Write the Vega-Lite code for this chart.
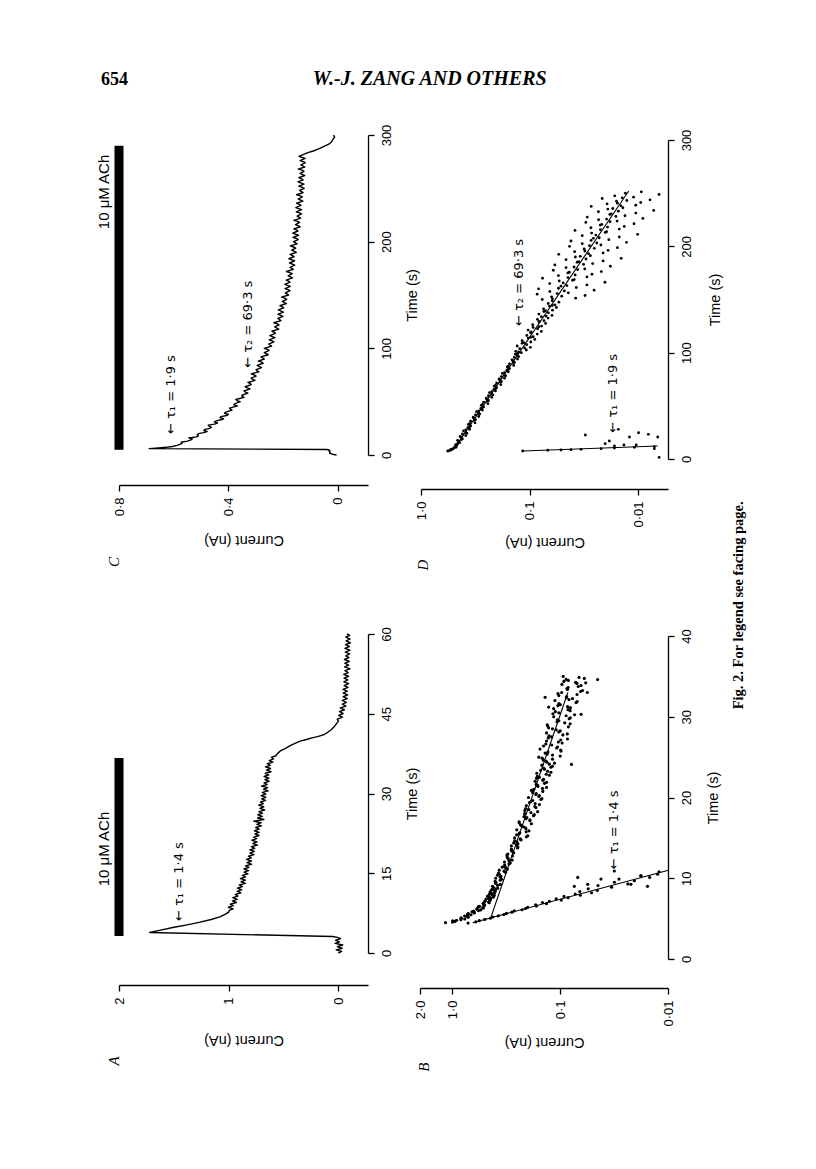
{
"$schema": "https://vega.github.io/schema/vega-lite/v6.json",
"background": "white",
"padding": {"left": 96, "top": 68, "right": 20, "bottom": 20},
"config": {
  "view": {"stroke": null},
  "font": "Liberation Sans",
  "axis": {"grid": false, "domainColor": "black", "tickColor": "black", "labelColor": "black", "titleColor": "black", "domainWidth": 1.3, "tickWidth": 1.3, "tickSize": 6, "labelFontSize": 13, "titleFontSize": 14.5, "titleFontWeight": "normal", "labelFont": "Liberation Sans", "titleFont": "Liberation Sans", "labelPadding": 6, "labelFlush": false, "labelOverlap": false, "domainCap": "butt"}
},
"datasets": {
"A": [{"t":0,"c":0},{"t":0.3,"c":-0.03},{"t":0.6,"c":0.02},{"t":0.9,"c":-0.035},{"t":1.2,"c":0.01},{"t":1.5,"c":-0.04},{"t":1.8,"c":0.03},{"t":2.1,"c":-0.01},{"t":2.4,"c":0.025},{"t":2.7,"c":-0.02},{"t":2.95,"c":0.01},{"t":3.1,"c":0.05},{"t":3.85,"c":1.72},{"t":4.3,"c":1.62},{"t":4.8,"c":1.51},{"t":5.3,"c":1.38},{"t":5.8,"c":1.26},{"t":6.3,"c":1.16},{"t":6.8,"c":1.08},{"t":7.3,"c":1.03},{"t":7.7,"c":1.0},
{"t":8.0,"c":0.995},{"t":8.3,"c":0.96},{"t":8.6,"c":1.003},{"t":8.9,"c":0.957},{"t":9.2,"c":0.986},{"t":9.5,"c":0.93},{"t":9.8,"c":0.966},{"t":10.1,"c":0.922},{"t":10.4,"c":0.963},{"t":10.7,"c":0.916},{"t":11.0,"c":0.94},{"t":11.3,"c":0.889},{"t":11.6,"c":0.923},{"t":11.9,"c":0.882},{"t":12.2,"c":0.921},{"t":12.5,"c":0.875},{"t":12.8,"c":0.904},{"t":13.1,"c":0.848},{"t":13.4,"c":0.887},{"t":13.7,"c":0.847},{"t":14.0,"c":0.893},{"t":14.3,"c":0.848},{"t":14.6,"c":0.874},{"t":14.9,"c":0.824},{"t":15.2,"c":0.86},{"t":15.5,"c":0.82},{"t":15.8,"c":0.861},{"t":16.1,"c":0.816},{"t":16.4,"c":0.847},{"t":16.7,"c":0.792},{"t":17.0,"c":0.833},{"t":17.3,"c":0.793},{"t":17.6,"c":0.839},{"t":17.9,"c":0.794},{"t":18.2,"c":0.82},{"t":18.5,"c":0.77},{"t":18.8,"c":0.806},{"t":19.1,"c":0.766},{"t":19.4,"c":0.807},{"t":19.7,"c":0.762},{"t":20.0,"c":0.793},{"t":20.3,"c":0.738},{"t":20.6,"c":0.779},{"t":20.9,"c":0.741},{"t":21.2,"c":0.788},{"t":21.5,"c":0.745},{"t":21.8,"c":0.772},{"t":22.1,"c":0.724},{"t":22.4,"c":0.761},{"t":22.7,"c":0.723},{"t":23.0,"c":0.765},{"t":23.3,"c":0.722},{"t":23.6,"c":0.754},{"t":23.9,"c":0.701},{"t":24.2,"c":0.743},{"t":24.5,"c":0.705},{"t":24.8,"c":0.772},{"t":25.1,"c":0.679},{"t":25.4,"c":0.736},{"t":25.7,"c":0.693},{"t":26.0,"c":0.735},{"t":26.3,"c":0.692},{"t":26.6,"c":0.724},{"t":26.9,"c":0.672},{"t":27.2,"c":0.716},{"t":27.5,"c":0.68},{"t":27.8,"c":0.727},{"t":28.1,"c":0.684},{"t":28.4,"c":0.711},{"t":28.7,"c":0.663},{"t":29.0,"c":0.70},{"t":29.3,"c":0.662},{"t":29.6,"c":0.704},{"t":29.9,"c":0.661},{"t":30.2,"c":0.693},{"t":30.5,"c":0.64},{"t":30.8,"c":0.682},{"t":31.1,"c":0.644},{"t":31.4,"c":0.701},{"t":31.7,"c":0.649},{"t":32.0,"c":0.678},{"t":32.3,"c":0.631},{"t":32.6,"c":0.67},{"t":32.9,"c":0.633},{"t":33.2,"c":0.677},{"t":33.5,"c":0.635},{"t":33.8,"c":0.667},{"t":34.1,"c":0.614},{"t":34.4,"c":0.656},{"t":34.7,"c":0.618},{"t":35.0,"c":0.665},{"t":35.3,"c":0.622},{"t":35.6,"c":0.648},{"t":35.9,"c":0.597},{"t":36.2,"c":0.631},{"t":36.5,"c":0.59},{"t":36.8,"c":0.61},{"t":37.1,"c":0.57},
{"t":37.5,"c":0.555},{"t":38.0,"c":0.53},{"t":38.4,"c":0.49},{"t":38.8,"c":0.455},{"t":39.1,"c":0.43},{"t":39.4,"c":0.40},{"t":39.7,"c":0.365},{"t":39.9,"c":0.34},{"t":40.1,"c":0.30},{"t":40.3,"c":0.27},{"t":40.5,"c":0.23},{"t":40.7,"c":0.19},{"t":40.9,"c":0.16},{"t":41.1,"c":0.13},{"t":41.4,"c":0.105},{"t":41.7,"c":0.085},{"t":42.0,"c":0.065},{"t":42.4,"c":0.045},{"t":42.8,"c":0.03},{"t":43.2,"c":0.015},{"t":43.6,"c":0.0},
{"t":44.0,"c":0.01},{"t":44.35,"c":-0.037},{"t":44.7,"c":-0.003},{"t":45.05,"c":-0.043},{"t":45.4,"c":-0.01},{"t":45.75,"c":-0.055},{"t":46.1,"c":-0.017},{"t":46.45,"c":-0.069},{"t":46.8,"c":-0.036},{"t":47.15,"c":-0.073},{"t":47.5,"c":-0.035},{"t":47.85,"c":-0.082},{"t":48.2,"c":-0.044},{"t":48.55,"c":-0.085},{"t":48.9,"c":-0.044},{"t":49.25,"c":-0.081},{"t":49.6,"c":-0.042},{"t":49.95,"c":-0.088},{"t":50.3,"c":-0.053},{"t":50.65,"c":-0.094},{"t":51.0,"c":-0.05},{"t":51.35,"c":-0.086},{"t":51.7,"c":-0.052},{"t":52.05,"c":-0.093},{"t":52.4,"c":-0.049},{"t":52.75,"c":-0.09},{"t":53.1,"c":-0.06},{"t":53.45,"c":-0.106},{"t":53.8,"c":-0.057},{"t":54.15,"c":-0.093},{"t":54.5,"c":-0.059},{"t":54.85,"c":-0.1},{"t":55.2,"c":-0.055},{"t":55.55,"c":-0.096},{"t":55.9,"c":-0.067},{"t":56.25,"c":-0.103},{"t":56.6,"c":-0.063},{"t":56.95,"c":-0.105},{"t":57.3,"c":-0.06},{"t":57.65,"c":-0.1},{"t":58.0,"c":-0.065},{"t":58.35,"c":-0.11},{"t":58.7,"c":-0.07},{"t":59.05,"c":-0.106},{"t":59.4,"c":-0.067},{"t":59.75,"c":-0.103},{"t":60.0,"c":-0.078}],
"C": [{"t":0,"c":0.005},{"t":0.5,"c":0.015},{"t":1.5,"c":0.03},{"t":2.5,"c":0.028},{"t":3.5,"c":0.032},{"t":4.5,"c":0.03},{"t":5.2,"c":0.04},{"t":6.0,"c":0.69},{"t":6.6,"c":0.655},{"t":7.2,"c":0.628},{"t":8,"c":0.605},{"t":9,"c":0.588},{"t":10,"c":0.577},{"t":11,"c":0.57},
{"t":12,"c":0.573},{"t":13,"c":0.55},{"t":14,"c":0.539},{"t":15,"c":0.532},{"t":16,"c":0.545},{"t":17,"c":0.517},{"t":18,"c":0.51},{"t":19,"c":0.514},{"t":20,"c":0.51},{"t":21,"c":0.49},{"t":22,"c":0.478},{"t":23,"c":0.49},{"t":24,"c":0.486},{"t":25,"c":0.468},{"t":26,"c":0.462},{"t":27,"c":0.47},{"t":28,"c":0.474},{"t":29,"c":0.451},{"t":30,"c":0.44},{"t":31,"c":0.452},{"t":32,"c":0.444},{"t":33,"c":0.428},{"t":34,"c":0.418},{"t":35,"c":0.431},{"t":36,"c":0.428},{"t":37,"c":0.406},{"t":38,"c":0.40},{"t":39,"c":0.414},{"t":40,"c":0.412},{"t":42,"c":0.387},{"t":43,"c":0.393},{"t":44,"c":0.396},{"t":46,"c":0.367},{"t":47,"c":0.38},{"t":48,"c":0.378},{"t":50,"c":0.357},{"t":51,"c":0.369},{"t":52,"c":0.373},{"t":54,"c":0.343},{"t":55,"c":0.35},{"t":56,"c":0.351},{"t":58,"c":0.329},{"t":59,"c":0.338},{"t":60,"c":0.343},{"t":62,"c":0.321},{"t":63,"c":0.33},{"t":64,"c":0.339},{"t":66,"c":0.317},{"t":67,"c":0.32},{"t":68,"c":0.329},{"t":70,"c":0.303},{"t":71,"c":0.312},{"t":72,"c":0.317},{"t":74,"c":0.299},{"t":75,"c":0.305},{"t":76,"c":0.317},{"t":78,"c":0.289},{"t":79,"c":0.296},{"t":80,"c":0.299},{"t":82,"c":0.279},{"t":83,"c":0.288},{"t":84,"c":0.295},{"t":86,"c":0.273},{"t":87,"c":0.279},{"t":88,"c":0.291},{"t":90,"c":0.269},{"t":91,"c":0.274},{"t":92,"c":0.281},{"t":94,"c":0.255},{"t":95,"c":0.262},{"t":96,"c":0.269},{"t":98,"c":0.251},{"t":99,"c":0.258},{"t":100,"c":0.269},{"t":102,"c":0.242},{"t":104,"c":0.253},{"t":106,"c":0.234},{"t":107,"c":0.241},{"t":108,"c":0.251},{"t":110,"c":0.23},{"t":112,"c":0.249},{"t":114,"c":0.228},{"t":115,"c":0.232},{"t":116,"c":0.241},{"t":118,"c":0.216},{"t":120,"c":0.231},{"t":122,"c":0.215},{"t":123,"c":0.222},{"t":124,"c":0.234},{"t":126,"c":0.208},{"t":128,"c":0.219},{"t":130,"c":0.201},{"t":131,"c":0.209},{"t":132,"c":0.219},{"t":134,"c":0.199},{"t":136,"c":0.218},{"t":138,"c":0.198},{"t":139,"c":0.203},{"t":140,"c":0.212},{"t":142,"c":0.188},{"t":144,"c":0.203},{"t":146,"c":0.187},{"t":147,"c":0.195},{"t":148,"c":0.206},{"t":150,"c":0.18},{"t":152,"c":0.192},{"t":154,"c":0.175},{"t":155,"c":0.183},{"t":156,"c":0.193},{"t":158,"c":0.174},{"t":160,"c":0.194},{"t":162,"c":0.175},{"t":163,"c":0.18},{"t":164,"c":0.189},{"t":166,"c":0.166},{"t":168,"c":0.182},{"t":170,"c":0.167},{"t":171,"c":0.176},{"t":172,"c":0.188},{"t":174,"c":0.163},{"t":176,"c":0.175},{"t":178,"c":0.158},{"t":179,"c":0.166},{"t":180,"c":0.177},{"t":182,"c":0.158},{"t":184,"c":0.179},{"t":186,"c":0.16},{"t":187,"c":0.166},{"t":188,"c":0.175},{"t":190,"c":0.152},{"t":192,"c":0.169},{"t":194,"c":0.154},{"t":195,"c":0.162},{"t":196,"c":0.174},{"t":198,"c":0.149},{"t":200,"c":0.162},{"t":202,"c":0.145},{"t":203,"c":0.152},{"t":204,"c":0.164},{"t":206,"c":0.144},{"t":208,"c":0.165},{"t":210,"c":0.146},{"t":211,"c":0.152},{"t":212,"c":0.161},{"t":214,"c":0.138},{"t":216,"c":0.155},{"t":218,"c":0.14},{"t":219,"c":0.147},{"t":220,"c":0.161},{"t":222,"c":0.136},{"t":224,"c":0.149},{"t":226,"c":0.133},{"t":227,"c":0.141},{"t":228,"c":0.152},{"t":230,"c":0.133},{"t":232,"c":0.154},{"t":234,"c":0.135},{"t":235,"c":0.14},{"t":236,"c":0.151},{"t":238,"c":0.128},{"t":240,"c":0.145},{"t":242,"c":0.13},{"t":243,"c":0.137},{"t":244,"c":0.151},{"t":246,"c":0.127},{"t":248,"c":0.14},{"t":250,"c":0.123},{"t":251,"c":0.131},{"t":252,"c":0.143},{"t":254,"c":0.124},{"t":256,"c":0.146},{"t":258,"c":0.127},{"t":259,"c":0.133},{"t":260,"c":0.143},{"t":262,"c":0.121},{"t":264,"c":0.138},{"t":266,"c":0.124},{"t":267,"c":0.131},{"t":268,"c":0.145},{"t":270,"c":0.121},{"t":272,"c":0.135},{"t":274,"c":0.119},{"t":275,"c":0.127},{"t":276,"c":0.138},{"t":278,"c":0.12},{"t":280,"c":0.142},{"t":282,"c":0.123},{"t":283.5,"c":0.11},{"t":285,"c":0.09},{"t":286.5,"c":0.075},{"t":288,"c":0.062},{"t":290,"c":0.045},{"t":292,"c":0.03},{"t":294,"c":0.022},{"t":296,"c":0.018},{"t":298,"c":0.012},{"t":300,"c":0.016}],
"Bpts": [{"t":4.5,"c":1.16},{"t":4.65,"c":0.946},{"t":4.8,"c":0.916},{"t":4.95,"c":0.769},{"t":5.1,"c":0.832},{"t":5.25,"c":0.733},{"t":5.4,"c":0.719},{"t":5.55,"c":0.721},{"t":5.7,"c":0.628},{"t":5.85,"c":0.658},{"t":6.0,"c":0.573},{"t":6.15,"c":0.589},{"t":6.3,"c":0.519},{"t":6.45,"c":0.577},{"t":6.6,"c":0.509},{"t":6.75,"c":0.506},{"t":6.9,"c":0.518},{"t":7.05,"c":0.462},{"t":7.2,"c":0.497},{"t":7.35,"c":0.444},{"t":7.5,"c":0.468},{"t":7.65,"c":0.419},{"t":7.8,"c":0.473},{"t":7.95,"c":0.426},{"t":8.1,"c":0.43},{"t":8.25,"c":0.444},{"t":8.4,"c":0.40},{"t":8.55,"c":0.434},{"t":8.7,"c":0.392},{"t":8.85,"c":0.415},
{"t":4.575,"c":0.998},{"t":4.725,"c":0.995},{"t":4.875,"c":0.836},{"t":5.025,"c":0.828},{"t":5.175,"c":0.713},{"t":5.325,"c":0.771},{"t":5.475,"c":0.673},{"t":5.625,"c":0.713},{"t":5.775,"c":0.628},{"t":5.925,"c":0.635},{"t":6.075,"c":0.548},{"t":6.225,"c":0.593},{"t":6.375,"c":0.522},{"t":6.525,"c":0.561},{"t":6.675,"c":0.502},{"t":6.825,"c":0.518},{"t":6.975,"c":0.456},{"t":7.125,"c":0.501},{"t":7.275,"c":0.448},{"t":7.425,"c":0.488},{"t":7.575,"c":0.443},{"t":7.725,"c":0.46},{"t":7.875,"c":0.409},{"t":8.025,"c":0.453},{"t":8.175,"c":0.407},{"t":8.325,"c":0.446},{"t":8.475,"c":0.406},{"t":8.625,"c":0.427},{"t":8.775,"c":0.381},
{"t":9,"c":0.425},{"t":9.25,"c":0.36},{"t":9.5,"c":0.395},{"t":9.75,"c":0.36},{"t":10,"c":0.397},{"t":10.25,"c":0.355},{"t":10.5,"c":0.367},{"t":10.75,"c":0.322},{"t":11,"c":0.368},{"t":11.25,"c":0.32},{"t":11.5,"c":0.327},{"t":11.75,"c":0.299},{"t":12,"c":0.329},{"t":12.25,"c":0.279},{"t":12.5,"c":0.306},{"t":12.75,"c":0.277},{"t":13,"c":0.306},{"t":13.25,"c":0.274},{"t":13.5,"c":0.284},{"t":13.75,"c":0.249},{"t":14,"c":0.284},{"t":14.25,"c":0.247},{"t":14.5,"c":0.252},{"t":14.75,"c":0.231},{"t":15,"c":0.265},{"t":15.25,"c":0.20},{"t":15.5,"c":0.241},{"t":15.75,"c":0.207},{"t":16,"c":0.253},{"t":16.25,"c":0.21},{"t":16.5,"c":0.229},{"t":16.75,"c":0.185},{"t":17,"c":0.241},{"t":17.25,"c":0.191},{"t":17.5,"c":0.204},{"t":17.75,"c":0.177},{"t":18,"c":0.214},{"t":18.25,"c":0.162},{"t":18.5,"c":0.196},{"t":18.75,"c":0.168},{"t":19,"c":0.206},{"t":19.25,"c":0.171},{"t":19.5,"c":0.187},{"t":19.75,"c":0.151},{"t":20,"c":0.197},{"t":20.25,"c":0.156},{"t":20.5,"c":0.167},{"t":20.75,"c":0.145},{"t":21,"c":0.176},{"t":21.25,"c":0.134},{"t":21.5,"c":0.162},{"t":21.75,"c":0.14},{"t":22,"c":0.171},{"t":22.25,"c":0.143},{"t":22.5,"c":0.156},{"t":22.75,"c":0.126},{"t":23,"c":0.165},{"t":23.25,"c":0.131},{"t":23.5,"c":0.14},{"t":23.75,"c":0.122},{"t":24,"c":0.148},{"t":24.25,"c":0.113},{"t":24.5,"c":0.136},{"t":24.75,"c":0.118},{"t":25,"c":0.158},{"t":25.25,"c":0.118},{"t":25.5,"c":0.138},{"t":25.75,"c":0.0982},{"t":26,"c":0.154},{"t":26.25,"c":0.106},{"t":26.5,"c":0.12},{"t":26.75,"c":0.096},{"t":27,"c":0.134},{"t":27.25,"c":0.0857},{"t":27.5,"c":0.12},{"t":27.75,"c":0.0944},{"t":28,"c":0.134},{"t":28.25,"c":0.10},{"t":28.5,"c":0.118},{"t":28.75,"c":0.0839},{"t":29,"c":0.132},{"t":29.25,"c":0.0908},{"t":29.5,"c":0.103},{"t":29.75,"c":0.0826},{"t":30,"c":0.115},{"t":30.25,"c":0.0736},{"t":30.5,"c":0.103},{"t":30.75,"c":0.0809},{"t":31,"c":0.115},{"t":31.25,"c":0.0855},{"t":31.5,"c":0.10},{"t":31.75,"c":0.0713},{"t":32,"c":0.112},{"t":32.25,"c":0.0769},{"t":32.5,"c":0.0871},{"t":32.75,"c":0.0698},{"t":33,"c":0.097},{"t":33.25,"c":0.0621},{"t":33.5,"c":0.0865},{"t":33.75,"c":0.0681},{"t":34,"c":0.0964},{"t":34.25,"c":0.0719},{"t":34.5,"c":0.0841},{"t":34.75,"c":0.0598},{"t":35,"c":0.0938},
{"t":9.125,"c":0.381},{"t":9.625,"c":0.401},{"t":10.125,"c":0.36},{"t":10.625,"c":0.374},{"t":11.125,"c":0.31},{"t":11.625,"c":0.328},{"t":12.125,"c":0.298},{"t":12.625,"c":0.311},{"t":13.125,"c":0.27},{"t":13.625,"c":0.284},{"t":14.125,"c":0.255},{"t":14.625,"c":0.264},{"t":15.125,"c":0.206},{"t":15.625,"c":0.237},{"t":16.125,"c":0.208},{"t":16.625,"c":0.234},{"t":17.125,"c":0.191},{"t":17.625,"c":0.217},{"t":18.125,"c":0.187},{"t":18.625,"c":0.209},{"t":19.125,"c":0.156},{"t":19.625,"c":0.18},{"t":20.125,"c":0.158},{"t":20.625,"c":0.18},{"t":21.125,"c":0.146},{"t":21.625,"c":0.167},{"t":22.125,"c":0.145},{"t":22.625,"c":0.163},{"t":23.125,"c":0.122},{"t":23.625,"c":0.142},{"t":24.125,"c":0.126},{"t":24.625,"c":0.143},{"t":25.125,"c":0.10},{"t":25.625,"c":0.13},{"t":26.125,"c":0.108},{"t":26.625,"c":0.136},{"t":27.125,"c":0.099},{"t":27.625,"c":0.127},{"t":28.125,"c":0.103},{"t":28.625,"c":0.128},{"t":29.125,"c":0.0809},{"t":29.625,"c":0.106},{"t":30.125,"c":0.0881},{"t":30.625,"c":0.111},{"t":31.125,"c":0.0805},{"t":31.625,"c":0.103},{"t":32.125,"c":0.083},{"t":32.625,"c":0.103},{"t":33.125,"c":0.0647},{"t":33.625,"c":0.0845},{"t":34.125,"c":0.07},{"t":34.625,"c":0.0881},
{"t":9.375,"c":0.398},{"t":9.875,"c":0.35},{"t":10.375,"c":0.382},{"t":10.875,"c":0.332},{"t":11.375,"c":0.345},{"t":11.875,"c":0.291},{"t":12.375,"c":0.303},{"t":12.875,"c":0.312},{"t":13.375,"c":0.282},{"t":13.875,"c":0.247},{"t":14.375,"c":0.27},{"t":14.875,"c":0.235},{"t":15.375,"c":0.254},{"t":15.875,"c":0.195},{"t":16.375,"c":0.22},{"t":16.875,"c":0.24},{"t":17.375,"c":0.209},{"t":17.875,"c":0.174},{"t":18.375,"c":0.213},{"t":18.875,"c":0.172},{"t":19.375,"c":0.193},{"t":19.875,"c":0.148},{"t":20.375,"c":0.168},{"t":20.875,"c":0.185},{"t":21.375,"c":0.161},{"t":21.875,"c":0.134},{"t":22.375,"c":0.166},{"t":22.875,"c":0.135},{"t":23.375,"c":0.152},{"t":23.875,"c":0.118},{"t":24.375,"c":0.133},{"t":24.875,"c":0.147},{"t":25.375,"c":0.132},{"t":25.875,"c":0.0992},{"t":26.375,"c":0.143},{"t":26.875,"c":0.104},{"t":27.375,"c":0.129},{"t":27.875,"c":0.086},{"t":28.375,"c":0.109},{"t":28.875,"c":0.131},{"t":29.375,"c":0.107},{"t":29.875,"c":0.0806},{"t":30.375,"c":0.117},{"t":30.875,"c":0.0846},{"t":31.375,"c":0.105},{"t":31.875,"c":0.0696},{"t":32.375,"c":0.0877},{"t":32.875,"c":0.105},{"t":33.375,"c":0.0857},{"t":33.875,"c":0.0642},{"t":34.375,"c":0.0925},{"t":34.875,"c":0.0669},
{"t":24.1,"c":0.0787},{"t":34.6,"c":0.045},{"t":34.2,"c":0.058},{"t":33.0,"c":0.056},{"t":30.3,"c":0.064},{"t":32.4,"c":0.138},{"t":31.2,"c":0.128},
{"t":4.45,"c":0.716},{"t":4.6,"c":0.607},{"t":4.75,"c":0.564},{"t":4.9,"c":0.501},{"t":5.05,"c":0.445},{"t":5.2,"c":0.423},{"t":5.35,"c":0.375},{"t":5.5,"c":0.333},{"t":5.65,"c":0.316},{"t":5.8,"c":0.281},{"t":5.95,"c":0.267},{"t":6.1,"c":0.226},{"t":6.25,"c":0.21},{"t":6.4,"c":0.2},{"t":6.55,"c":0.166},{"t":6.7,"c":0.169},{"t":6.85,"c":0.134},{"t":7.0,"c":0.146},{"t":7.15,"c":0.126},{"t":7.3,"c":0.0977},{"t":7.45,"c":0.109},{"t":7.6,"c":0.0845},{"t":7.75,"c":0.0923},{"t":7.9,"c":0.065},{"t":8.05,"c":0.0726},{"t":8.2,"c":0.0512},{"t":8.35,"c":0.0658},{"t":8.5,"c":0.0453},{"t":8.7,"c":0.055},{"t":8.9,"c":0.0334},{"t":9.1,"c":0.0446},{"t":9.3,"c":0.0236},{"t":9.5,"c":0.0314},{"t":9.7,"c":0.0205},{"t":9.9,"c":0.0285},{"t":10.1,"c":0.0148},{"t":10.3,"c":0.0179},{"t":10.5,"c":0.0125},{"t":10.8,"c":0.0121},
{"t":10.9,"c":0.0315},{"t":9.9,"c":0.0419},{"t":9.25,"c":0.0556},{"t":10.1,"c":0.0688},{"t":9.0,"c":0.074},{"t":9.25,"c":0.0221},{"t":10.3,"c":0.0178},{"t":9.0,"c":0.0155}],
"Bfit": [{"seg":"fast","t":4.5,"c":0.647},{"seg":"fast","t":11.0,"c":0.0099},{"seg":"slow","t":5.0,"c":0.444},{"seg":"slow","t":33,"c":0.085}],
"Dpts": [{"t":7.5,"c":0.567},{"t":8.0,"c":0.545},{"t":8.5,"c":0.531},{"t":9.0,"c":0.519},{"t":9.5,"c":0.51},{"t":10,"c":0.501},{"t":11,"c":0.49},{"t":12,"c":0.479},{"t":13,"c":0.47},{"t":14,"c":0.462},{"t":15,"c":0.455},{"t":16,"c":0.449},{"t":9,"c":0.53},{"t":11,"c":0.475},{"t":13.5,"c":0.48},{"t":15.5,"c":0.44},
{"t":17.5,"c":0.46},{"t":19,"c":0.415},{"t":20.5,"c":0.43},{"t":22,"c":0.387},{"t":23.5,"c":0.415},{"t":25,"c":0.387},{"t":26.5,"c":0.406},{"t":28,"c":0.357},{"t":29.5,"c":0.37},{"t":31,"c":0.349},{"t":32.5,"c":0.366},{"t":34,"c":0.318},{"t":35.5,"c":0.349},{"t":37,"c":0.315},{"t":38.5,"c":0.327},{"t":40,"c":0.294},{"t":41.5,"c":0.315},{"t":43,"c":0.294},{"t":44.5,"c":0.308},{"t":46,"c":0.272},{"t":47.5,"c":0.281},{"t":49,"c":0.265},{"t":50.5,"c":0.278},{"t":52,"c":0.242},{"t":53.5,"c":0.265},{"t":55,"c":0.239},{"t":56.5,"c":0.248},{"t":58,"c":0.223},{"t":59.5,"c":0.239},{"t":61,"c":0.223},{"t":62.5,"c":0.234},{"t":64,"c":0.206},{"t":65.5,"c":0.213},{"t":67,"c":0.201},{"t":68.5,"c":0.211},{"t":70,"c":0.184},{"t":71.5,"c":0.201},{"t":73,"c":0.182},{"t":74.5,"c":0.188},{"t":76,"c":0.17},{"t":77.5,"c":0.182},{"t":79,"c":0.17},{"t":80.5,"c":0.178},{"t":82,"c":0.157},{"t":83.5,"c":0.162},{"t":85,"c":0.153},{"t":86.5,"c":0.16},{"t":88,"c":0.14},{"t":89.5,"c":0.153},{"t":91,"c":0.138},{"t":92.5,"c":0.143},{"t":94,"c":0.129},{"t":95.5,"c":0.138},{"t":97,"c":0.129},{"t":98.5,"c":0.135},{"t":100,"c":0.119},
{"t":18.25,"c":0.425},{"t":21.25,"c":0.435},{"t":24.25,"c":0.378},{"t":27.25,"c":0.387},{"t":30.25,"c":0.357},{"t":33.25,"c":0.357},{"t":36.25,"c":0.323},{"t":39.25,"c":0.33},{"t":42.25,"c":0.288},{"t":45.25,"c":0.294},{"t":48.25,"c":0.272},{"t":51.25,"c":0.272},{"t":54.25,"c":0.245},{"t":57.25,"c":0.251},{"t":60.25,"c":0.218},{"t":63.25,"c":0.223},{"t":66.25,"c":0.206},{"t":69.25,"c":0.206},{"t":72.25,"c":0.186},{"t":75.25,"c":0.191},{"t":78.25,"c":0.166},{"t":81.25,"c":0.17},{"t":84.25,"c":0.157},{"t":87.25,"c":0.157},{"t":90.25,"c":0.141},{"t":93.25,"c":0.145},{"t":96.25,"c":0.126},{"t":99.25,"c":0.129},
{"t":101.25,"c":0.134},{"t":102.5,"c":0.107},{"t":103.75,"c":0.123},{"t":105,"c":0.0982},{"t":106.25,"c":0.13},{"t":107.5,"c":0.106},{"t":108.75,"c":0.117},{"t":110,"c":0.0975},{"t":111.25,"c":0.117},{"t":112.5,"c":0.0895},{"t":113.75,"c":0.103},{"t":115,"c":0.0925},{"t":116.25,"c":0.106},{"t":117.5,"c":0.0849},{"t":118.75,"c":0.098},{"t":120,"c":0.078},{"t":121.25,"c":0.103},{"t":122.5,"c":0.0843},{"t":123.75,"c":0.0927},{"t":125,"c":0.0774},{"t":126.25,"c":0.0935},{"t":127.5,"c":0.0711},{"t":128.75,"c":0.082},{"t":130,"c":0.0735},{"t":131.25,"c":0.0845},{"t":132.5,"c":0.0675},{"t":133.75,"c":0.0778},{"t":135,"c":0.0621},{"t":136.25,"c":0.082},{"t":137.5,"c":0.067},{"t":138.75,"c":0.0738},{"t":140,"c":0.0615},{"t":141.25,"c":0.0743},{"t":142.5,"c":0.0566},{"t":143.75,"c":0.0652},{"t":145,"c":0.0583},{"t":146.25,"c":0.0673},{"t":147.5,"c":0.0536},{"t":148.75,"c":0.0618},
{"t":100.6,"c":0.126},{"t":104.4,"c":0.111},{"t":109.4,"c":0.113},{"t":114.4,"c":0.0977},{"t":119.4,"c":0.0968},{"t":124.4,"c":0.0818},{"t":129.4,"c":0.0813},{"t":134.4,"c":0.0703},{"t":139.4,"c":0.0714},{"t":144.4,"c":0.0617},
{"t":150,"c":0.0764},{"t":151.25,"c":0.0376},{"t":152.5,"c":0.0627},{"t":153.75,"c":0.0308},{"t":155,"c":0.0851},{"t":156.25,"c":0.0439},{"t":157.5,"c":0.065},{"t":158.75,"c":0.0254},{"t":160,"c":0.0826},{"t":161.25,"c":0.0371},{"t":162.5,"c":0.0513},{"t":163.75,"c":0.0296},{"t":165,"c":0.0652},{"t":166.25,"c":0.0202},{"t":167.5,"c":0.0533},{"t":168.75,"c":0.0388},{"t":170,"c":0.0759},{"t":171.25,"c":0.0296},{"t":172.5,"c":0.0542},{"t":173.75,"c":0.0266},{"t":175,"c":0.0444},{"t":176.25,"c":0.0218},{"t":177.5,"c":0.0604},{"t":178.75,"c":0.031},{"t":180,"c":0.0461},{"t":181.25,"c":0.018},{"t":182.5,"c":0.0585},{"t":183.75,"c":0.0262},{"t":185,"c":0.0364},{"t":186.25,"c":0.021},{"t":187.5,"c":0.0461},{"t":188.75,"c":0.0143},{"t":190,"c":0.0378},{"t":191.25,"c":0.0275},{"t":192.5,"c":0.0538},{"t":193.75,"c":0.021},{"t":195,"c":0.0384},{"t":196.25,"c":0.0189},{"t":197.5,"c":0.0314},{"t":198.75,"c":0.0155},{"t":200,"c":0.0428},{"t":201.25,"c":0.022},{"t":202.5,"c":0.0327},{"t":203.75,"c":0.0128},{"t":205,"c":0.0415},{"t":206.25,"c":0.0186},{"t":207.5,"c":0.0258},{"t":208.75,"c":0.0149},{"t":210,"c":0.0327},{"t":211.25,"c":0.0101},{"t":212.5,"c":0.0268},{"t":213.75,"c":0.0195},{"t":215,"c":0.0381},{"t":216.25,"c":0.0149},{"t":217.5,"c":0.0272},{"t":218.75,"c":0.0134},{"t":220,"c":0.0223},{"t":221.25,"c":0.0109},{"t":222.5,"c":0.0303},{"t":223.75,"c":0.0156},{"t":225,"c":0.0231},{"t":226.25,"c":0.00904},{"t":227.5,"c":0.0294},{"t":228.75,"c":0.0132},{"t":230,"c":0.0182},{"t":231.25,"c":0.0105},{"t":232.5,"c":0.0232},{"t":233.75,"c":0.00718},{"t":235,"c":0.019},{"t":236.25,"c":0.0138},{"t":237.5,"c":0.027},{"t":238.75,"c":0.0105},{"t":240,"c":0.0193},{"t":241.25,"c":0.00946},{"t":242.5,"c":0.0158},{"t":243.75,"c":0.00776},{"t":245,"c":0.0214},{"t":246.25,"c":0.011},{"t":247.5,"c":0.0164},{"t":248.75,"c":0.00641},{"t":250,"c":0.0131},{"t":251.25,"c":0.00933},
{"t":150.6,"c":0.0615},{"t":153.1,"c":0.0505},{"t":155.6,"c":0.0557},{"t":158.1,"c":0.0478},{"t":160.6,"c":0.0541},{"t":163.1,"c":0.0453},{"t":165.6,"c":0.049},{"t":168.1,"c":0.0401},{"t":170.6,"c":0.0443},{"t":173.1,"c":0.038},{"t":175.6,"c":0.043},{"t":178.1,"c":0.036},{"t":180.6,"c":0.0389},{"t":183.1,"c":0.0318},{"t":185.6,"c":0.0352},{"t":188.1,"c":0.0302},{"t":190.6,"c":0.0341},{"t":193.1,"c":0.0286},{"t":195.6,"c":0.0309},{"t":198.1,"c":0.0253},{"t":200.6,"c":0.028},{"t":203.1,"c":0.024},{"t":205.6,"c":0.0271},{"t":208.1,"c":0.0228},{"t":210.6,"c":0.0245},{"t":213.1,"c":0.0201},{"t":215.6,"c":0.0222},{"t":218.1,"c":0.0191},{"t":220.6,"c":0.0216},{"t":223.1,"c":0.0181},{"t":225.6,"c":0.0195},{"t":228.1,"c":0.016},{"t":230.6,"c":0.0177},{"t":233.1,"c":0.0152},{"t":235.6,"c":0.0171},{"t":238.1,"c":0.0144},{"t":240.6,"c":0.0155},{"t":243.1,"c":0.0127},{"t":245.6,"c":0.014},
{"t":7.5,"c":0.1156},{"t":8.2,"c":0.0679},{"t":8.5,"c":0.0513},{"t":8.8,"c":0.0415},{"t":9.1,"c":0.0335},{"t":9.7,"c":0.0219},{"t":10.3,"c":0.0165},{"t":11,"c":0.0108},{"t":11.6,"c":0.00708},{"t":1.5,"c":0.0064},{"t":22.6,"c":0.0306},{"t":14.4,"c":0.0201},{"t":16.9,"c":0.0184},{"t":12.2,"c":0.0165},{"t":27.9,"c":0.0152},{"t":13.2,"c":0.0135},{"t":20.7,"c":0.012},{"t":13.2,"c":0.0104},{"t":24.7,"c":0.0099},{"t":23.2,"c":0.00804},{"t":20.7,"c":0.00659},{"t":9.7,"c":0.00708}],
"Dfit": [{"seg":"slow","t":10,"c":0.493},{"seg":"slow","t":252,"c":0.0122},{"seg":"fast","t":7.5,"c":0.1156},{"seg":"fast","t":12.2,"c":0.0066}]
},
"columns": 2,
"spacing": {"row": 175, "column": 52},
"bounds": "flush",
"concat": [
 {"width": 249, "height": 324,
  "encoding": {
   "x": {"field": "c", "type": "quantitative", "scale": {"domain": [-0.11, 0.8], "range": [249, 0], "nice": false, "zero": false},
         "axis": {"orient": "bottom", "offset": 26, "values": [0, 0.4, 0.8], "labelAngle": -90, "labelAlign": "right", "labelBaseline": "middle", "labelExpr": "datum.value == 0 ? '0' : replace(format(datum.value, '.1f'), '.', '·')", "title": "Current (nA)", "titleAngle": 180, "titleBaseline": "middle", "titleY": 54}},
   "y": {"field": "t", "type": "quantitative", "scale": {"domain": [0, 300], "range": [320, 0], "nice": false, "zero": false},
         "axis": {"orient": "right", "values": [0, 100, 200, 300], "labelAngle": -90, "labelAlign": "center", "labelBaseline": "top", "title": "Time (s)", "titleAngle": -90, "titleBaseline": "middle", "titleX": 44}}
  },
  "layer": [
   {"data": {"values": [{"c": 0.8, "t": 5, "t2": 290}]}, "mark": {"type": "rule", "strokeWidth": 9, "color": "black", "strokeCap": "butt"}, "encoding": {"y2": {"field": "t2"}}},
   {"data": {"name": "C"}, "mark": {"type": "line", "color": "black", "strokeWidth": 1.4, "strokeJoin": "round"}, "encoding": {"order": {"field": "t", "type": "quantitative"}}},
   {"data": {"values": [{"c": 0.61, "t": 19.7, "label": "← τ₁ = 1·9 s"}, {"c": 0.33, "t": 81.8, "label": "← τ₂ = 69·3 s"}]}, "mark": {"type": "text", "angle": -90, "align": "left", "baseline": "middle", "fontSize": 13, "font": "DejaVu Sans", "color": "black"}, "encoding": {"text": {"field": "label"}}},
   {"data": {"values": [{"c": 0.855, "t": 246.6, "label": "10 μM ACh"}]}, "mark": {"type": "text", "angle": -90, "align": "center", "baseline": "middle", "fontSize": 15, "color": "black"}, "encoding": {"text": {"field": "label"}}},
   {"data": {"values": [{"c": 0.818, "t": -100.3, "label": "C"}]}, "mark": {"type": "text", "angle": -90, "align": "center", "baseline": "middle", "fontSize": 15, "font": "Liberation Serif", "fontStyle": "italic", "color": "black"}, "encoding": {"text": {"field": "label"}}},
   {"data": {"values": [{"c": 0.866, "t": 346.9, "label": "654"}]}, "mark": {"type": "text", "align": "left", "baseline": "alphabetic", "fontSize": 18, "font": "Liberation Serif", "fontWeight": "bold", "color": "black"}, "encoding": {"text": {"field": "label"}}},
   {"data": {"values": [{"c": 0.092, "t": 346.9, "label": "W.-J. ZANG  AND  OTHERS"}]}, "mark": {"type": "text", "align": "left", "baseline": "alphabetic", "fontSize": 20, "font": "Liberation Serif", "fontStyle": "italic", "fontWeight": "bold", "color": "black"}, "encoding": {"text": {"field": "label"}}}
  ]
 },
 {"width": 248, "height": 324,
  "encoding": {
   "x": {"field": "c", "type": "quantitative", "scale": {"type": "log", "domain": [0.0053, 1.0], "range": [248, 1], "nice": false, "zero": false},
         "axis": {"orient": "bottom", "offset": 30, "values": [1, 0.1, 0.01], "labelAngle": -90, "labelAlign": "right", "labelBaseline": "middle", "labelExpr": "datum.value >= 0.99 ? '1·0' : datum.value >= 0.099 ? '0·1' : '0·01'", "title": "Current (nA)", "titleAngle": 180, "titleBaseline": "middle", "titleY": 52}},
   "y": {"field": "t", "type": "quantitative", "scale": {"domain": [0, 300], "range": [324, 5], "nice": false, "zero": false},
         "axis": {"orient": "right", "values": [0, 100, 200, 300], "labelAngle": -90, "labelAlign": "center", "labelBaseline": "top", "title": "Time (s)", "titleAngle": -90, "titleBaseline": "middle", "titleX": 47}}
  },
  "layer": [
   {"data": {"name": "Dpts"}, "mark": {"type": "circle", "size": 8, "color": "black", "opacity": 1}},
   {"data": {"name": "Dfit"}, "mark": {"type": "line", "color": "black", "strokeWidth": 1.1}, "encoding": {"detail": {"field": "seg"}, "order": {"field": "t", "type": "quantitative"}}},
   {"data": {"values": [{"c": 0.124, "t": 125.1, "label": "← τ₂ = 69·3 s"}, {"c": 0.0171, "t": 24.7, "label": "← τ₁ = 1·9 s"}]}, "mark": {"type": "text", "angle": -90, "align": "left", "baseline": "middle", "fontSize": 13, "font": "DejaVu Sans", "color": "black"}, "encoding": {"text": {"field": "label"}}},
   {"data": {"values": [{"c": 0.958, "t": -99.7, "label": "D"}]}, "mark": {"type": "text", "angle": -90, "align": "center", "baseline": "middle", "fontSize": 15, "font": "Liberation Serif", "fontStyle": "italic", "color": "black"}, "encoding": {"text": {"field": "label"}}}
  ]
 },
 {"width": 249, "height": 325,
  "encoding": {
   "x": {"field": "c", "type": "quantitative", "scale": {"domain": [-0.27, 2], "range": [249, 0], "nice": false, "zero": false},
         "axis": {"orient": "bottom", "offset": 26, "values": [0, 1, 2], "labelAngle": -90, "labelAlign": "right", "labelBaseline": "middle", "title": "Current (nA)", "titleAngle": 180, "titleBaseline": "middle", "titleY": 54}},
   "y": {"field": "t", "type": "quantitative", "scale": {"domain": [0, 60], "range": [319, 0], "nice": false, "zero": false},
         "axis": {"orient": "right", "values": [0, 15, 30, 45, 60], "labelAngle": -90, "labelAlign": "center", "labelBaseline": "top", "title": "Time (s)", "titleAngle": -90, "titleBaseline": "middle", "titleX": 44}}
  },
  "layer": [
   {"data": {"values": [{"c": 2.0, "t": 3.2, "t2": 36.7}]}, "mark": {"type": "rule", "strokeWidth": 9, "color": "black", "strokeCap": "butt"}, "encoding": {"y2": {"field": "t2"}}},
   {"data": {"name": "A"}, "mark": {"type": "line", "color": "black", "strokeWidth": 1.4, "strokeJoin": "round"}, "encoding": {"order": {"field": "t", "type": "quantitative"}}},
   {"data": {"values": [{"c": 1.456, "t": 6.02, "label": "← τ₁ = 1·4 s"}]}, "mark": {"type": "text", "angle": -90, "align": "left", "baseline": "middle", "fontSize": 13, "font": "DejaVu Sans", "color": "black"}, "encoding": {"text": {"field": "label"}}},
   {"data": {"values": [{"c": 2.137, "t": 19.56, "label": "10 μM ACh"}]}, "mark": {"type": "text", "angle": -90, "align": "center", "baseline": "middle", "fontSize": 15, "color": "black"}, "encoding": {"text": {"field": "label"}}},
   {"data": {"values": [{"c": 2.046, "t": -20.3, "label": "A"}]}, "mark": {"type": "text", "angle": -90, "align": "center", "baseline": "middle", "fontSize": 15, "font": "Liberation Serif", "fontStyle": "italic", "color": "black"}, "encoding": {"text": {"field": "label"}}}
  ]
 },
 {"width": 248, "height": 325,
  "encoding": {
   "x": {"field": "c", "type": "quantitative", "scale": {"type": "log", "domain": [0.01, 2.0], "range": [248, 0], "nice": false, "zero": false},
         "axis": {"orient": "bottom", "offset": 29, "values": [2, 1, 0.1, 0.01], "labelAngle": -90, "labelAlign": "right", "labelBaseline": "middle", "labelExpr": "datum.value >= 1.99 ? '2·0' : datum.value >= 0.99 ? '1·0' : datum.value >= 0.099 ? '0·1' : '0·01'", "title": "Current (nA)", "titleAngle": 180, "titleBaseline": "middle", "titleY": 53}},
   "y": {"field": "t", "type": "quantitative", "scale": {"domain": [0, 40], "range": [325, 2], "nice": false, "zero": false},
         "axis": {"orient": "right", "values": [0, 10, 20, 30, 40], "labelAngle": -90, "labelAlign": "center", "labelBaseline": "top", "title": "Time (s)", "titleAngle": -90, "titleBaseline": "middle", "titleX": 45}}
  },
  "layer": [
   {"data": {"name": "Bpts"}, "mark": {"type": "circle", "size": 10, "color": "black", "opacity": 1}},
   {"data": {"name": "Bfit"}, "mark": {"type": "line", "color": "black", "strokeWidth": 1.1}, "encoding": {"detail": {"field": "seg"}, "order": {"field": "t", "type": "quantitative"}}},
   {"data": {"values": [{"c": 0.0315, "t": 11.1, "label": "← τ₁ = 1·4 s"}]}, "mark": {"type": "text", "angle": -90, "align": "left", "baseline": "middle", "fontSize": 13, "font": "DejaVu Sans", "color": "black"}, "encoding": {"text": {"field": "label"}}},
   {"data": {"values": [{"c": 1.837, "t": -13.4, "label": "B"}]}, "mark": {"type": "text", "angle": -90, "align": "center", "baseline": "middle", "fontSize": 15, "font": "Liberation Serif", "fontStyle": "italic", "color": "black"}, "encoding": {"text": {"field": "label"}}},
   {"data": {"values": [{"c": 0.0022, "t": 43.8, "label": "Fig. 2. For legend see facing page."}]}, "mark": {"type": "text", "angle": -90, "align": "center", "baseline": "middle", "fontSize": 14.5, "font": "Liberation Serif", "fontWeight": "bold", "color": "black"}, "encoding": {"text": {"field": "label"}}}
  ]
 }
]
}
